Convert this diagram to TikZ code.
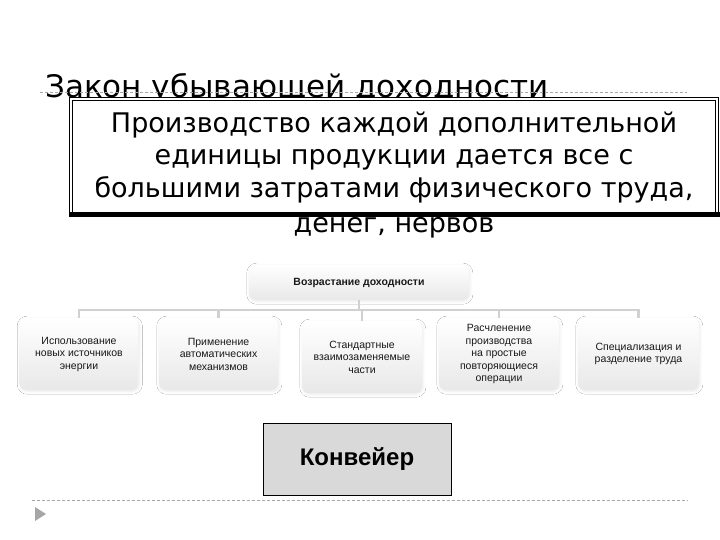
\documentclass[tikz,border=0pt]{standalone}
\usepackage{fontspec}
\setmainfont{DejaVu Sans}
\newfontfamily\arialf{Liberation Sans}
\usetikzlibrary{shadows.blur,calc}
\begin{document}
\begin{tikzpicture}[x=1pt,y=-1pt,
  treebox/.style={rounded corners=7pt, top color=white, bottom color=black!9,
    minimum width=119pt, minimum height=72pt, align=center,
    font=\arialf\fontsize{10.5}{12.5}\selectfont, text=black!90,
    blur shadow={shadow blur steps=10, shadow xshift=0.8pt, shadow yshift=-1.2pt,
      shadow opacity=9, shadow blur radius=3pt}, inner sep=2pt},
  conn/.style={draw=black!18, line width=2.2pt},
  slidedash/.style={draw=black!35, dash pattern=on 3pt off 2pt, line width=0.8pt},
  bigtext/.style={anchor=base, inner sep=0pt, font=\fontsize{27}{32}\selectfont}
]
\useasboundingbox[fill=white] (0,0) rectangle (720,540);
% title
\node[anchor=base west, inner sep=0pt, font=\fontsize{31}{34}\selectfont] (title) at (45,98) {Закон убывающей доходности};
\draw[slidedash] (40,92) coordinate (ta) -- (687,92) coordinate (tb);
% definition box
\node[bigtext] (l4) at (394,233) {денег, нервов};
\node[draw, double, double distance=2.2pt, line width=1pt, fill=white,
      minimum width=646pt, minimum height=116pt, inner sep=0pt] (mainbox) at (394,157) {};
\fill[black] ($(mainbox.south west)+(-2,-3)$) rectangle ($(mainbox.south east)+(2,2)$);
\node[bigtext] (l1) at (394,133) {Производство каждой дополнительной};
\node[bigtext] (l2) at (394,165) {единицы продукции дается все с};
\node[bigtext] (l3) at (394,197) {большими затратами физического труда,};
% tree
\coordinate (bus) at (0,310);
\node[treebox, minimum width=220pt, minimum height=35pt,
      font=\arialf\bfseries\fontsize{10.5}{12}\selectfont] (root) at (359,282.5) {Возрастание доходности};
\node[treebox] (c1) at (79,354) {Использование\\новых источников\\энергии};
\node[treebox] (c2) at (218.5,354) {Применение\\автоматических\\механизмов};
\node[treebox, minimum width=120pt] (c3) at (362,357) {Стандартные\\взаимозаменяемые\\части};
\node[treebox, minimum width=120pt] (c4) at (499,354) {Расчленение\\производства\\на простые\\повторяющиеся\\операции};
\node[treebox, minimum width=121pt] (c5) at (638.5,354) {Специализация и\\разделение труда};
\draw[conn] (root.south) -- (root.south |- bus);
\draw[conn] (c1.north) -- (c1.north |- bus) -- (c5.north |- bus) -- (c5.north);
\draw[conn] (c2.north) -- (c2.north |- bus);
\draw[conn] (c3.north) -- (c3.north |- bus);
\draw[conn] (c4.north) -- (c4.north |- bus);
% conveyor
\node[draw=black, line width=0.9pt, fill=black!15, minimum width=188pt, minimum height=72pt,
      font=\arialf\bfseries\fontsize{24}{27}\selectfont] (konv) at (357,459) {Конвейер};
% footer
\draw[slidedash] (32,500) coordinate (fa) -- (688,500) coordinate (fb);
\fill[black!35] (35,507) -- (46,514) -- (35,521) -- cycle;
\end{tikzpicture}
\end{document}
